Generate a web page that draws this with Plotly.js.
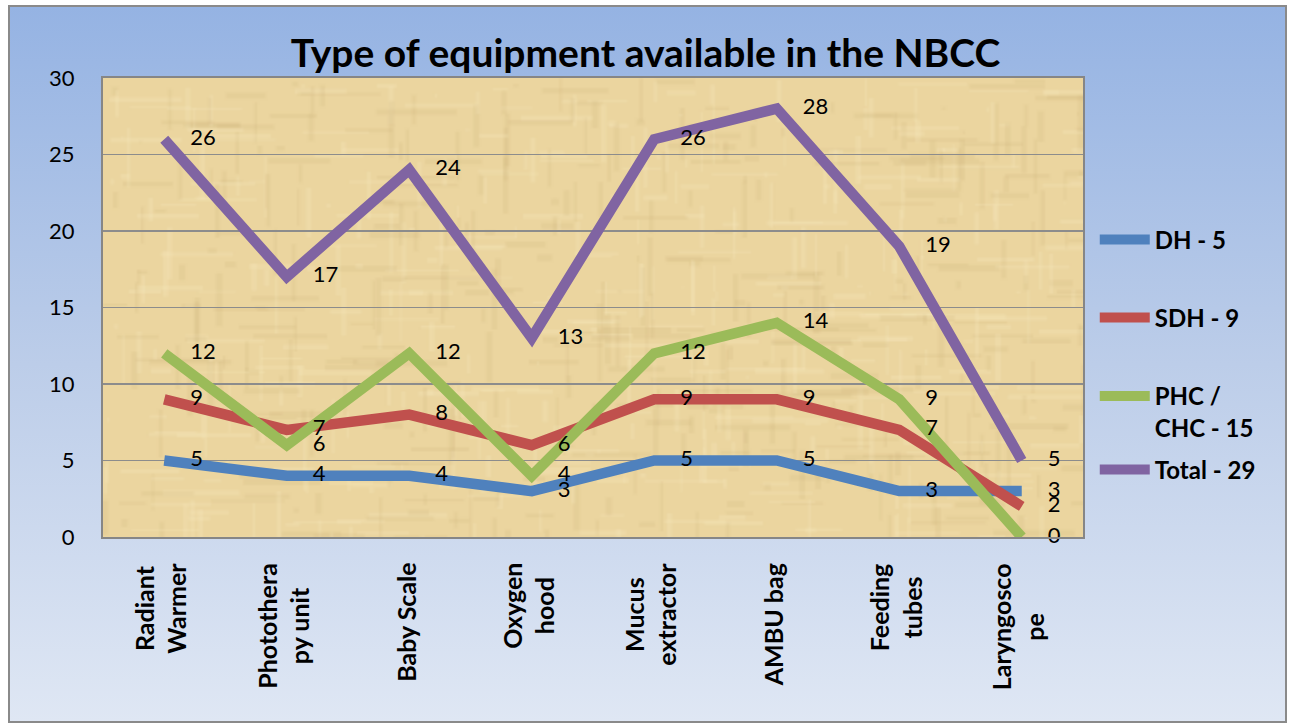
<!DOCTYPE html>
<html>
<head>
<meta charset="utf-8">
<script src="https://cdn.plot.ly/plotly-3.0.1.min.js"></script>
<style>
  html, body { margin: 0; padding: 0; background: #ffffff; }
  #wrap { position: relative; width: 1291px; height: 727px; }
  #bg { position: absolute; left: 8px; top: 5px; width: 1275px; height: 714px;
        border: 2px solid #8a8a8a;
        background: linear-gradient(to bottom, #95b3e3 0%, #bccde9 50%, #dfe7f4 100%); }
  #chart { position: absolute; left: 0; top: 0; width: 1291px; height: 727px; }
</style>
</head>
<body>
<div id="wrap"><div id="bg"></div><div id="chart"></div></div>
<script>
const categories = ["Radiant Warmer", "Phototherapy unit", "Baby Scale", "Oxygen hood",
                    "Mucus extractor", "AMBU bag", "Feeding tubes", "Laryngoscope"];
const tickLabels = ["Radiant<br>Warmer", "Photothera<br>py unit", "Baby Scale", "Oxygen<br>hood",
                    "Mucus<br>extractor", "AMBU bag", "Feeding<br>tubes", "Laryngosco<br>pe"];
const seriesNames = ["DH - 5", "SDH - 9", "PHC /<br>CHC - 15", "Total - 29"];
const dh    = [5, 4, 4, 3, 5, 5, 3, 3];
const sdh   = [9, 7, 8, 6, 9, 9, 7, 2];
const phc   = [12, 6, 12, 4, 12, 14, 9, 0];
const total = [26, 17, 24, 13, 26, 28, 19, 5];
const colors = ["#4f81bd", "#c0504d", "#9bbb59", "#8064a2"];
const FONT = 'Lato, sans-serif';

// parchment texture generated locally
function parchment() {
  const c = document.createElement('canvas');
  c.width = 490; c.height = 230;
  const g = c.getContext('2d');
  g.fillStyle = '#ebd59f'; g.fillRect(0, 0, c.width, c.height);
  let s = 7;
  function rnd() { s = (s * 16807) % 2147483647; return s / 2147483647; }
  for (let i = 0; i < 900; i++) {
    const x = rnd() * c.width, y = rnd() * c.height;
    const light = rnd() > 0.5;
    g.fillStyle = light ? 'rgba(250,235,195,0.22)' : 'rgba(200,170,110,0.14)';
    if (rnd() > 0.5) g.fillRect(x, y, 1 + rnd() * 40, 1 + rnd() * 2);
    else g.fillRect(x, y, 1 + rnd() * 2, 1 + rnd() * 30);
  }
  return c.toDataURL();
}

const legendIds = ['legend', 'legend2', 'legend3', 'legend4'];
const ys = [dh, sdh, phc, total];
const lineTraces = ys.map((y, i) => ({
  type: 'scatter', mode: 'lines', x: categories, y: y,
  name: seriesNames[i], legend: legendIds[i],
  line: { color: colors[i], width: 10.5 }, cliponaxis: false
}));
// data labels drawn after all lines so they sit on top
const labelTraces = ys.map((y, i) => ({
  type: 'scatter', mode: 'markers+text', x: categories, y: y, showlegend: false,
  marker: { size: 40, color: 'rgba(0,0,0,0)' },
  text: y.map(String), textposition: 'middle right',
  textfont: { family: FONT, size: 22, color: '#000' }, cliponaxis: false
}));

function legendAt(yc, valign) {
  return { x: 1.012, xanchor: 'left', y: yc, yanchor: 'middle', bgcolor: 'rgba(0,0,0,0)',
           font: { family: FONT, size: 24, color: '#000', weight: 'bold' },
           itemwidth: 50, valign: valign || 'middle' };
}
const toPaper = py => (537 - py) / 459;

const annotations = tickLabels.map((t, i) => ({
  text: '<b>' + t + '</b>', x: categories[i], xref: 'x', y: 0, yref: 'paper',
  xanchor: 'center', yanchor: 'top', yshift: -24, xshift: -4, textangle: -90, align: 'center',
  showarrow: false, font: { family: FONT, size: 25, color: '#000' }
}));

const layout = {
  width: 1291, height: 727,
  paper_bgcolor: 'rgba(0,0,0,0)',
  plot_bgcolor: '#ebd59f',
  margin: { l: 103, r: 208, t: 78, b: 190 },
  font: { family: FONT, size: 20, color: '#000' },
  title: { text: '<b>Type of equipment available in the NBCC</b>',
           font: { family: FONT, size: 39, color: '#000' },
           x: 0.5, xref: 'container', y: 1 - 53 / 727, yref: 'container', yanchor: 'middle' },
  xaxis: { type: 'category', range: [-0.5, 7.5], showticklabels: false,
           showline: true, linecolor: '#868686', linewidth: 2, mirror: true,
           showgrid: false, ticks: '', automargin: false },
  yaxis: { range: [0, 30], dtick: 5, showgrid: true, gridcolor: '#8c8c8c', gridwidth: 1.5,
           showline: true, linecolor: '#868686', linewidth: 2, mirror: true,
           zeroline: false, ticks: '', ticklabelstandoff: 22,
           tickfont: { family: FONT, size: 22, color: '#000' }, automargin: false },
  legend: legendAt(toPaper(240)),
  legend2: legendAt(toPaper(318)),
  legend3: legendAt(toPaper(412), 'top'),
  legend4: legendAt(toPaper(470)),
  showlegend: true,
  annotations: annotations,
  images: [{ source: parchment(), xref: 'paper', yref: 'paper', x: 0, y: 1,
             sizex: 1, sizey: 1, sizing: 'stretch', layer: 'below' }]
};
Plotly.newPlot('chart', lineTraces.concat(labelTraces), layout, { displayModeBar: false, staticPlot: true });
</script>
</body>
</html>
